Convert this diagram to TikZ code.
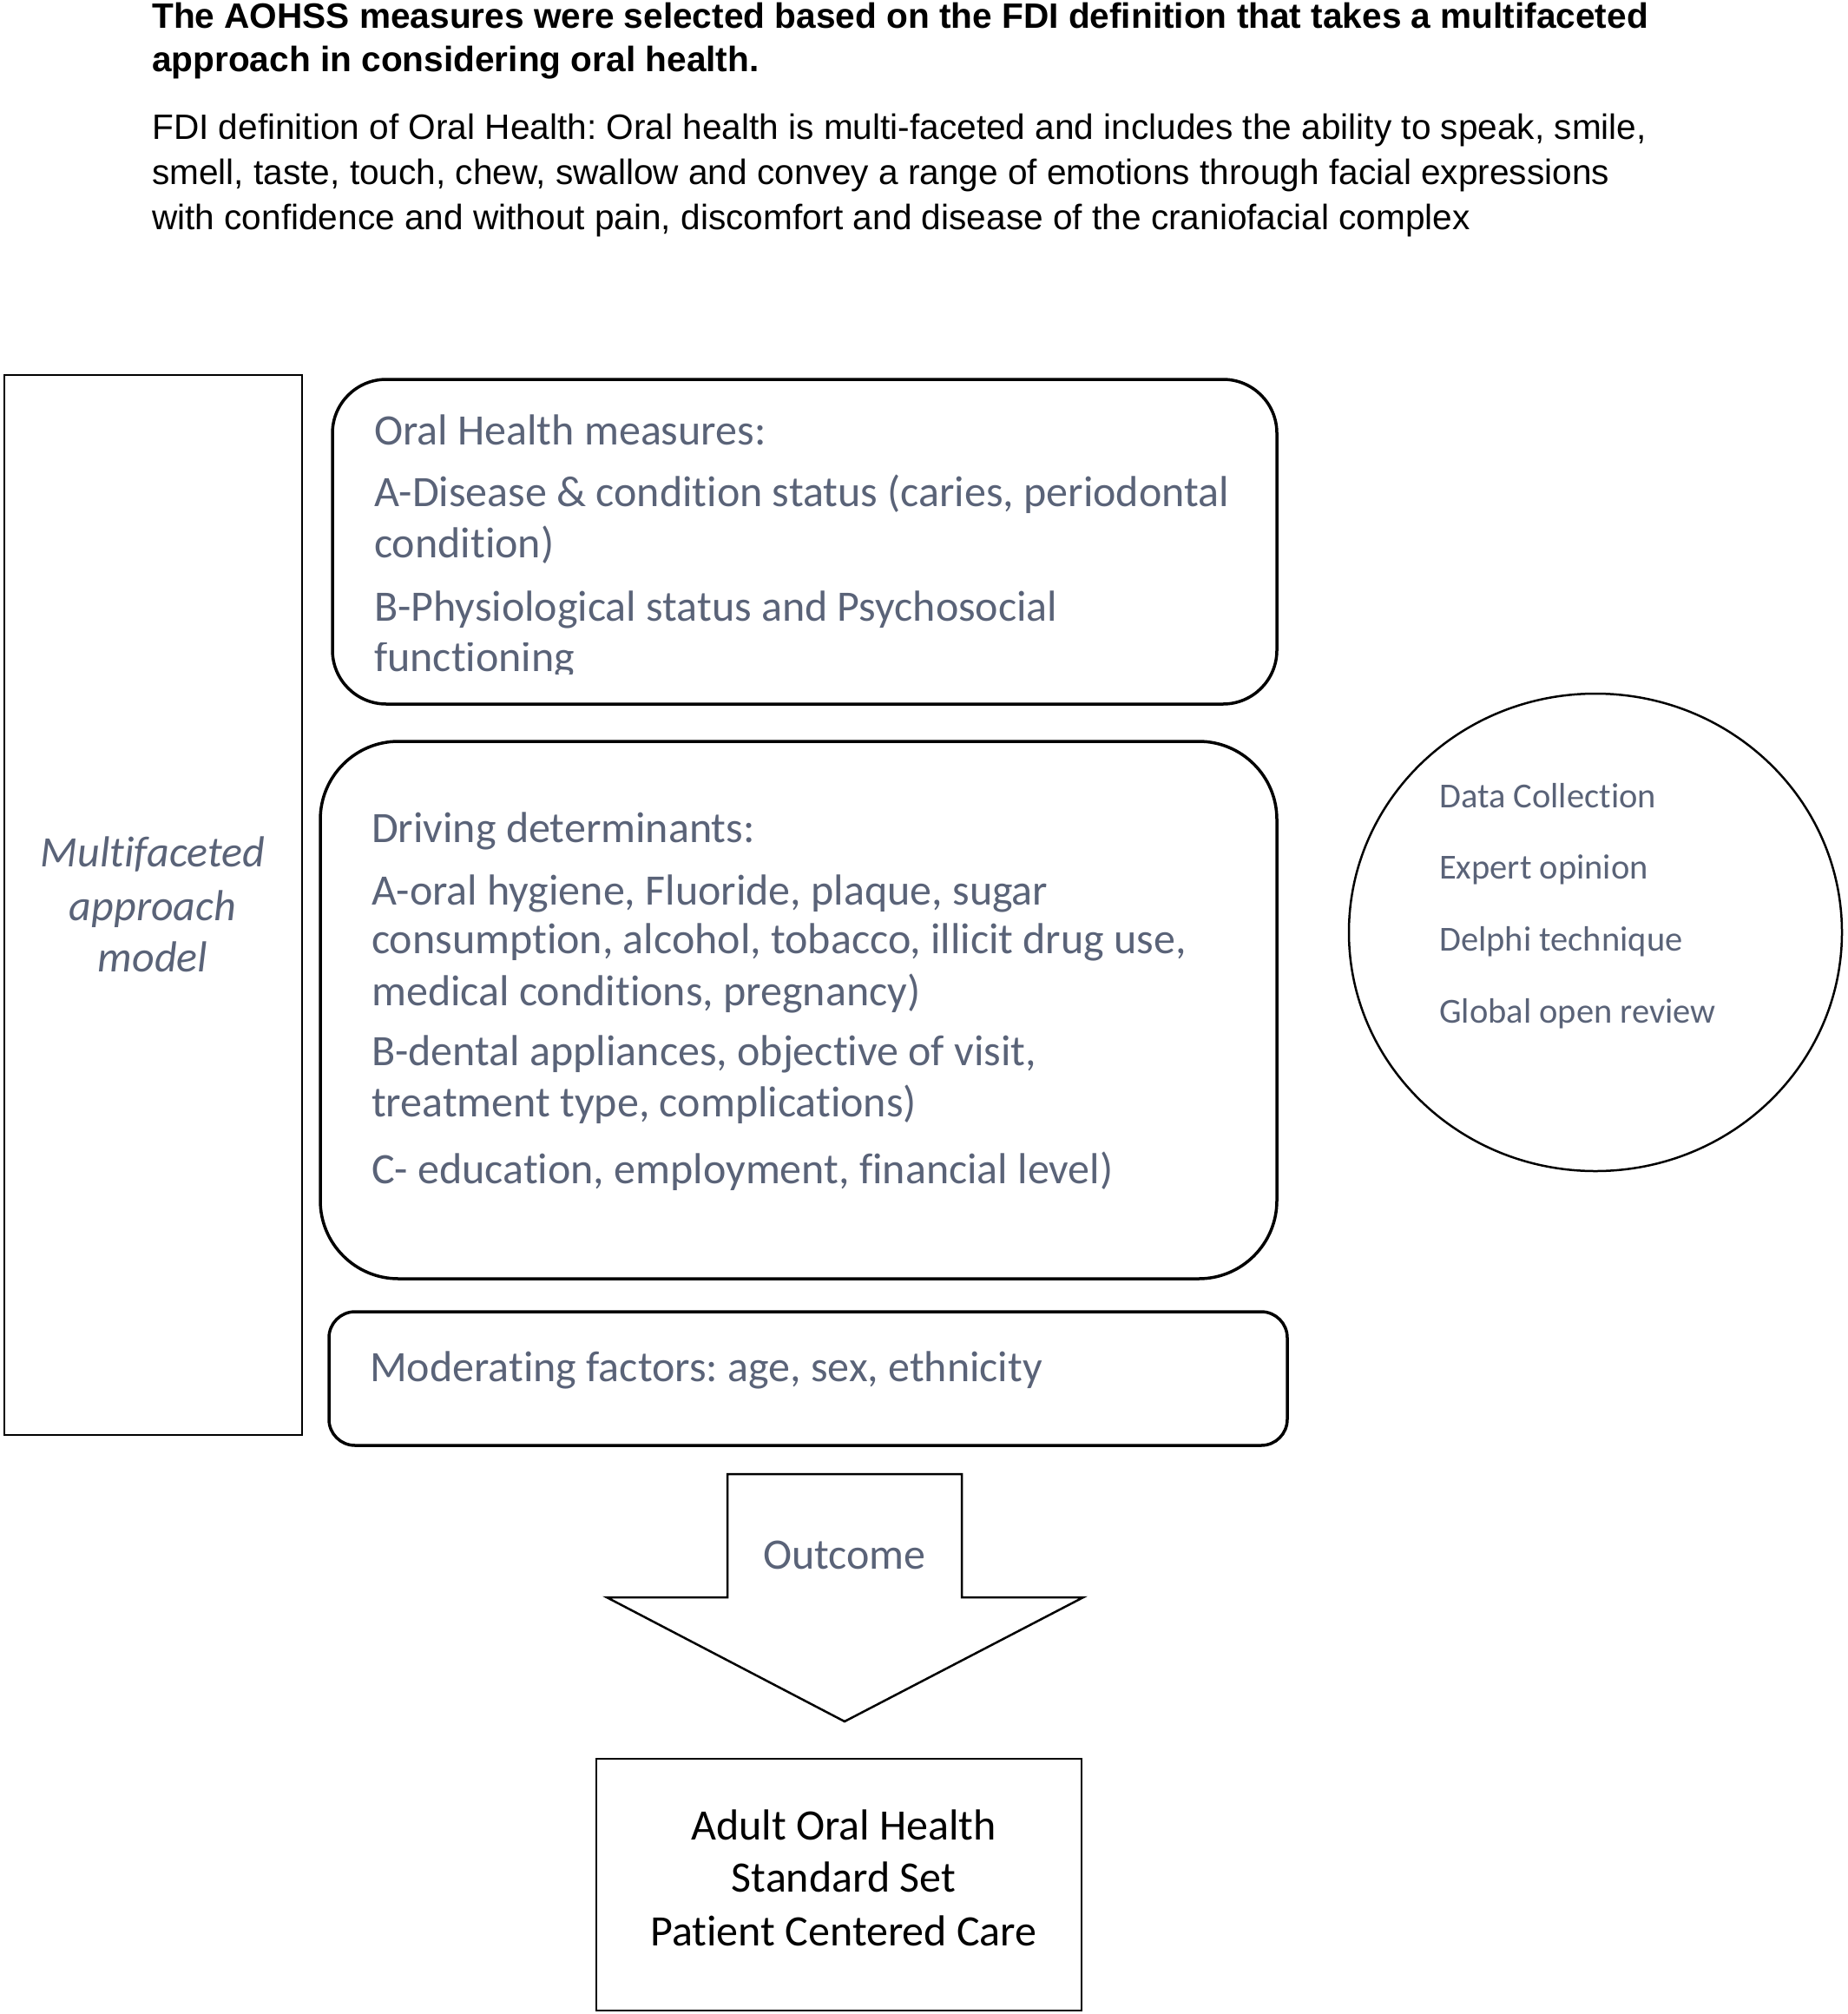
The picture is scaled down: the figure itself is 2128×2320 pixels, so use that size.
\documentclass[tikz,border=0pt]{standalone}
\usepackage{fontspec}
\setmainfont{Carlito}[Ligatures=NoCommon]
\newfontfamily\arialfont{Liberation Sans}
\usetikzlibrary{shapes.geometric}
\definecolor{txtblue}{HTML}{5A6378}
\frenchspacing
\tikzset{
  hdr/.style={anchor=base west, inner sep=0pt, font=\arialfont\fontsize{40.6}{44}\selectfont\bfseries},
  para/.style={anchor=base west, inner sep=0pt, font=\arialfont\fontsize{40.6}{44}\selectfont},
  boxtxt/.style={anchor=base west, inner sep=0pt, text=txtblue, font=\fontsize{50}{60}\selectfont},
  circtxt/.style={anchor=base west, inner sep=0pt, text=txtblue, font=\fontsize{40.5}{48}\selectfont},
  ctrtxt/.style={anchor=base, inner sep=0pt, font=\fontsize{50}{60}\selectfont},
  rbox/.style={draw=black, line width=3.5pt},
  plainbox/.style={draw=black, line width=2.2pt},
}
\begin{document}
\frenchspacing
\begin{tikzpicture}[x=1pt,y=-1pt]
\useasboundingbox (0,0) rectangle (2128,2320);
% header
\node[hdr] (h1) at (175,33) {The AOHSS measures were selected based on the FDI definition that takes a multifaceted};
\node[hdr] (h2) at (175,83) {approach in considering oral health.};
\node[para] (p1) at (175,161) {FDI definition of Oral Health: Oral health is multi-faceted and includes the ability to speak, smile,};
\node[para] (p2) at (175,212) {smell, taste, touch, chew, swallow and convey a range of emotions through facial expressions};
\node[para] (p3) at (175,264) {with confidence and without pain, discomfort and disease of the craniofacial complex};

% left box
\draw[plainbox, line width=2pt] (5,432) rectangle (348,1653);
\node[ctrtxt, text=txtblue, font=\fontsize{50}{60}\selectfont\itshape] (m1) at (176,998) {Multifaceted};
\node[ctrtxt, text=txtblue, font=\fontsize{50}{60}\selectfont\itshape] (m2) at (176,1060) {approach};
\node[ctrtxt, text=txtblue, font=\fontsize{50}{60}\selectfont\itshape] (m3) at (176,1119) {model};

% box 1
\draw[rbox, rounded corners=62pt] (383,437) rectangle (1471,811);
\node[boxtxt] (b1a) at (431,512) {Oral Health measures:};
\node[boxtxt] (b1b) at (431,583) {A-Disease \& condition status (caries, periodontal};
\node[boxtxt] (b1c) at (431,642) {condition)};
\node[boxtxt] (b1d) at (431,715) {B-Physiological status and Psychosocial};
\begin{scope}
\clip (400,740) rectangle (1400,776);
\node[boxtxt] (b1e) at (431,773) {functioning};
\end{scope}

% box 2
\draw[rbox, rounded corners=90pt] (369,854) rectangle (1471,1473);
\node[boxtxt] (b2a) at (428,970) {Driving determinants:};
\node[boxtxt] (b2b) at (428,1042) {A-oral hygiene, Fluoride, plaque, sugar};
\node[boxtxt] (b2c) at (428,1098) {consumption, alcohol, tobacco, illicit drug use,};
\node[boxtxt] (b2d) at (428,1158) {medical conditions, pregnancy)};
\node[boxtxt] (b2e) at (428,1227) {B-dental appliances, objective of visit,};
\node[boxtxt] (b2f) at (428,1286) {treatment type, complications)};
\node[boxtxt] (b2g) at (428,1363) {C- education, employment, financial level)};

% box 3
\draw[rbox, rounded corners=30pt] (379,1511) rectangle (1483,1665);
\node[boxtxt] (b3a) at (426,1591) {Moderating factors: age, sex, ethnicity};

% circle
\draw[plainbox, line width=2.5pt] (1838,1074) ellipse [x radius=284, y radius=275];
\node[circtxt] (c1) at (1658,930) {Data Collection};
\node[circtxt] (c2) at (1658,1012) {Expert opinion};
\node[circtxt] (c3) at (1658,1095) {Delphi technique};
\node[circtxt] (c4) at (1658,1178) {Global open review};

% arrow
\draw[plainbox, line width=2.5pt, line join=miter] (838,1698) -- (1108,1698) -- (1108,1840) -- (1248,1840) -- (973,1983) -- (699,1840) -- (838,1840) -- cycle;
\node[ctrtxt, text=txtblue] (out) at (973,1807) {Outcome};

% bottom box
\draw[plainbox, line width=2.5pt] (687,2026) rectangle (1246,2316);
\node[ctrtxt] (r1) at (972,2119) {Adult Oral Health};
\node[ctrtxt] (r2) at (972,2179) {Standard Set};
\node[ctrtxt] (r3) at (972,2241) {Patient Centered Care};
\end{tikzpicture}
\end{document}
